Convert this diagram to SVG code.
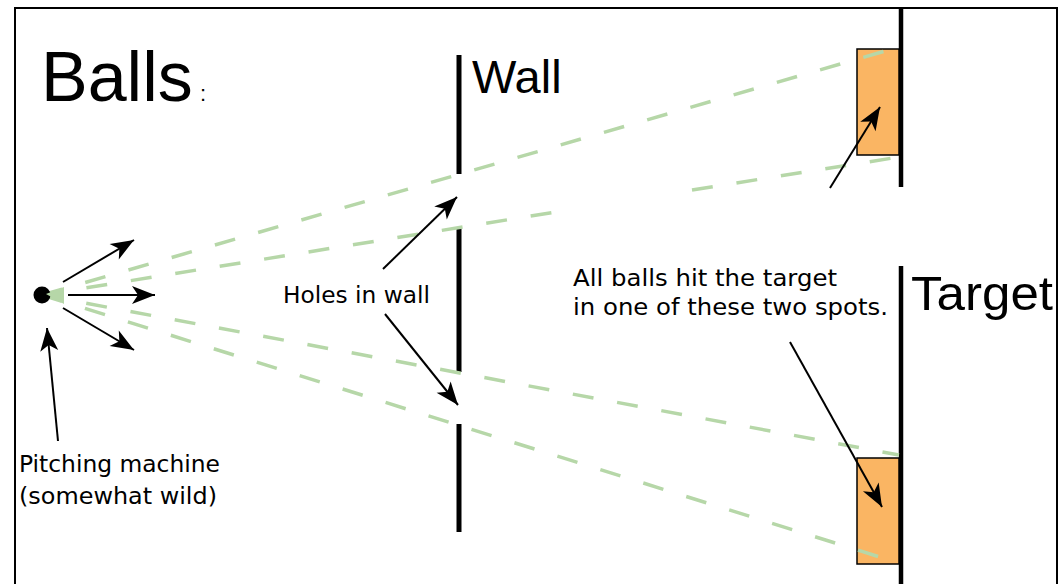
<svg xmlns="http://www.w3.org/2000/svg" width="1061" height="584" viewBox="0 0 1061 584">
<defs>
<marker id="ah" markerUnits="userSpaceOnUse" markerWidth="30" markerHeight="24" viewBox="-26 -12 30 24" refX="0" refY="0" orient="auto">
<path d="M0,0 L-23,-9 L-17,0 L-23,9 Z" fill="#000"/>
</marker>
</defs>
<style>
.frame{fill:none;stroke:#000;stroke-width:2}
.wall{stroke:#000;stroke-width:5;fill:none}
.tline{stroke:#000;stroke-width:4.5;fill:none}
.spot{fill:#FAB563;stroke:#000;stroke-width:1.5}
.ball{fill:none;stroke:#B6D7A8;stroke-width:3.5;stroke-dasharray:21 24}
.arr{fill:none;stroke:#000;stroke-width:2;marker-end:url(#ah)}
.big{font-family:"Liberation Sans",Arial,sans-serif;fill:#000}
.lbl{font-family:"DejaVu Sans","Noto Sans",sans-serif;font-size:23px;fill:#000}
</style>
<rect x="0" y="0" width="1061" height="584" fill="#fff"/>
<rect class="frame" x="15" y="8" width="1042" height="600"/>

<g id="title"><text class="big" x="41" y="101" font-size="70">Balls</text><text class="big" x="200" y="101" font-size="22">:</text></g>

<g id="wall">
<line class="wall" x1="459" y1="55" x2="459" y2="174"/>
<line class="wall" x1="459" y1="228" x2="459" y2="372"/>
<line class="wall" x1="459" y1="424" x2="459" y2="532"/>
<text class="big" x="472" y="93" font-size="47">Wall</text>
</g>

<g id="target">
<line class="tline" x1="901" y1="8" x2="901" y2="187"/>
<line class="tline" x1="901" y1="266" x2="901" y2="584"/>
<text class="big" x="911" y="310" font-size="48" textLength="142" lengthAdjust="spacingAndGlyphs">Target</text>
</g>

<g id="spot-top"><rect class="spot" x="857" y="49" width="42" height="106"/></g>
<g id="spot-bottom"><rect class="spot" x="857" y="458" width="42" height="106"/></g>

<g id="balls">
<path class="ball" d="M42,295 L899,47"/>
<path class="ball" d="M42,295 L568,210"/>
<path class="ball" d="M692,190 L899,157"/>
<path class="ball" d="M42,295 L899,455"/>
<path class="ball" d="M42,295 L899,563"/>
</g>

<g id="machine">
<circle cx="42" cy="295" r="8.5" fill="#000"/>
<path d="M46,294 L64,287 L64,304 Z" fill="#B6D7A8"/>
<text class="lbl" x="19" y="472" textLength="201" lengthAdjust="spacingAndGlyphs">Pitching machine</text>
<text class="lbl" x="19" y="504" textLength="198" lengthAdjust="spacingAndGlyphs">(somewhat wild)</text>
</g>

<g id="holes-label"><text class="lbl" x="283" y="303" textLength="147" lengthAdjust="spacingAndGlyphs">Holes in wall</text></g>

<g id="spots-label">
<text class="lbl" x="573" y="286" textLength="264" lengthAdjust="spacingAndGlyphs">All balls hit the target</text>
<text class="lbl" x="573" y="315" textLength="315" lengthAdjust="spacingAndGlyphs">in one of these two spots.</text>
</g>

<g id="connectors">
<line class="arr" x1="63" y1="282" x2="134" y2="240"/>
<line class="arr" x1="68" y1="295" x2="155" y2="295"/>
<line class="arr" x1="63" y1="308" x2="134" y2="350"/>
<line class="arr" x1="58" y1="441" x2="47" y2="328"/>
<line class="arr" x1="383" y1="269" x2="457" y2="197"/>
<line class="arr" x1="385" y1="314" x2="458" y2="405"/>
<line class="arr" x1="830" y1="188" x2="880" y2="107"/>
<line class="arr" x1="790" y1="342" x2="882" y2="507"/>
</g>
</svg>
